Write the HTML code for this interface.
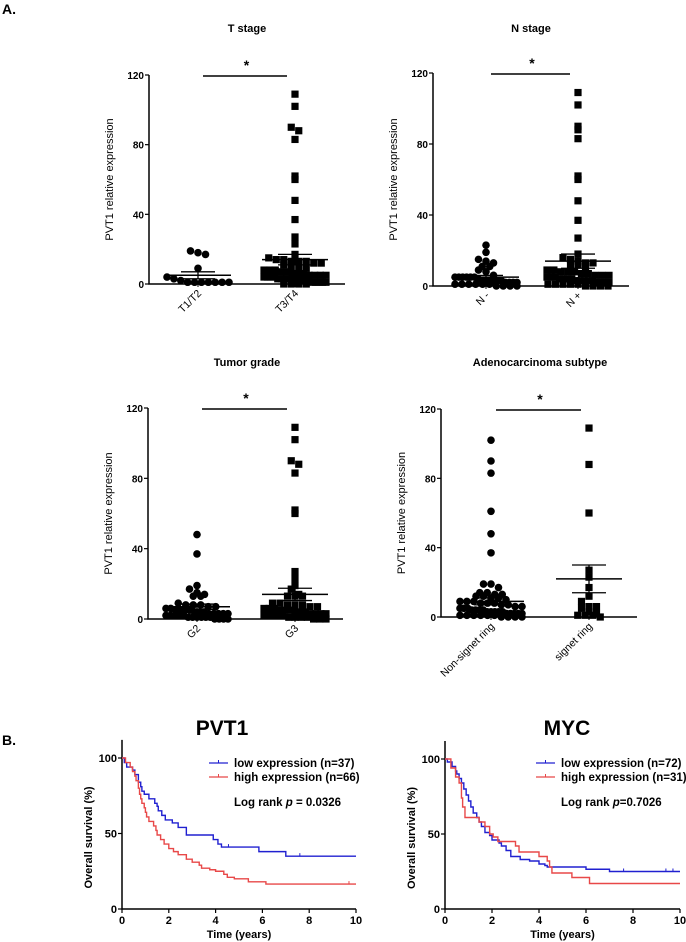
<!DOCTYPE html>
<html><head><meta charset="utf-8"><style>
html,body{margin:0;padding:0;background:#fff}
svg{display:block;font-family:"Liberation Sans",Arial,sans-serif}
</style></head><body>
<svg id="fig" width="686" height="942" viewBox="0 0 686 942" xmlns="http://www.w3.org/2000/svg">
<text x="2" y="14" font-size="14" font-weight="bold">A.</text>
<text x="2" y="745" font-size="14" font-weight="bold">B.</text>
</svg>
<script>
// ---------- Scatter data ----------
const tCats = ["T1/T2","T3/T4"];
const tLow = [19,18,17,9,4,3,2,1,1,1,1,1,1,1];
const tHigh = [109,102,90,88,83,62,60,48,37,27,23,17,15,14,14,13,13,13,12,12,11,10,9,9,8,8,8,7,7,6,6,6,5,5,5,5,4,4,4,4,3,3,3,3,3,2,2,2,2,2,1,1,1,1,1,0,0,0,0];
const tMean = [5,14]; const tSem = [2,3];
const nCats = ["N -","N +"];
const nNeg = [23,19,15,14,13,11,11,9,8,6,5,5,5,5,5,5,4,3,3,3,3,3,3,2,2,2,2,1,1,1,1,1,1,0,0,0,0];
const nPos = [109,102,90,88,83,62,60,48,37,27,18,16,15,14,13,13,12,12,11,9,9,8,8,8,7,7,6,6,6,5,5,5,4,4,4,4,3,3,3,3,3,2,2,2,2,1,1,1,1,1,0,0,0,0];
const nMean = [5,14]; const nSem = [1,4];
const gCats = ["G2","G3"];
const g2 = [48,37,19,17,15,13,13,14,9,8,8,8,7,7,6,6,5,5,5,5,4,4,4,3,3,3,3,3,2,2,2,2,2,1,1,1,1,1,1,0,0,0,0];
const g3 = [109,102,90,88,83,62,60,27,23,19,17,14,13,13,13,9,9,8,8,8,7,7,6,6,6,5,5,5,4,4,4,3,3,3,3,2,2,2,2,1,1,1,1,0,0,0];
const gMean = [7,14]; const gSem = [1.5,3.5];
const aCats = ["Non-signet ring","signet ring"];
const aNon = [102,90,83,61,48,37,19,19,17,14,14,13,13,12,12,11,11,10,9,9,9,8,8,8,7,7,6,6,5,5,5,4,4,4,4,3,3,3,3,3,2,2,2,2,2,1,1,1,1,1,1,0,0,0,0];
const aSig = [109,88,60,27,23,17,12,9,6,6,5,3,2,1,1,1,0];
const aMean = [9,22]; const aSem = [2,8];
const yTicks = [0,40,80,120];

// ---------- KM data: [time, survival%] ----------
const pvtLow = [[0,100],[0.1,97],[0.2,94],[0.45,92],[0.55,89],[0.7,84],[0.8,81],[0.85,78],[0.95,76],[1.15,73],[1.4,70],[1.5,68],[1.55,65],[1.7,62],[1.85,59],[2.15,57],[2.4,54],[2.75,49],[3.9,46],[4.1,43],[4.25,41],[5.85,38],[7.0,35]];
const pvtHigh = [[0,100],[0.15,97],[0.35,94],[0.45,91],[0.55,88],[0.6,85],[0.7,80],[0.75,76],[0.8,73],[0.85,70],[0.95,67],[1.0,64],[1.05,61],[1.15,58],[1.35,55],[1.45,52],[1.5,49],[1.65,46],[1.8,43],[2.0,40],[2.2,38],[2.4,36],[2.75,33],[3.0,31],[3.3,29],[3.4,27],[3.75,26],[4.0,25],[4.35,23],[4.5,21],[4.8,20],[5.4,18],[6.15,16.5]];
const mycLow = [[0,100],[0.1,98],[0.3,95],[0.45,92],[0.5,90],[0.6,87],[0.7,84],[0.8,80],[0.9,76],[1.0,72],[1.1,68],[1.2,64],[1.35,61],[1.45,58],[1.55,55],[1.7,51],[1.9,49],[2.0,46],[2.3,44],[2.4,42],[2.6,39],[2.8,35],[3.2,33],[3.6,32],[4.0,30],[4.25,29],[4.35,28],[6.0,26.5],[7.0,25]];
const mycHigh = [[0,100],[0.25,94],[0.45,88],[0.6,84],[0.7,74],[0.75,68],[0.85,61],[1.45,58],[1.7,55],[1.9,50],[2.05,48],[2.25,45],[3.0,42],[3.15,38],[4.0,35],[4.35,32],[4.45,28],[4.55,24],[5.4,21],[6.15,17]];
const pvtLowCens = [4.55,7.6]; const pvtHighCens = [9.7];
const mycLowCens = [7.0,7.6,9.4,9.7]; const mycHighCens = [];
const kmXTicks = [0,2,4,6,8,10]; const kmYTicks = [0,50,100];

const svg = document.getElementById('fig');
const NS = 'http://www.w3.org/2000/svg';
function mk(tag, attrs, parent){const e=document.createElementNS(NS,tag);for(const k in attrs)e.setAttribute(k,attrs[k]);(parent||svg).appendChild(e);return e;}

function scatterPanel(cfg){
  const g = mk('g',{});
  
  
  const y = v => cfg.y0 - (v/120)*(cfg.y0-cfg.y120);
  const t = mk('text',{x:cfg.titleX,y:cfg.titleY,'font-size':11,'font-weight':'bold','text-anchor':'middle'},g);
  t.textContent = cfg.title;
  
  
  const ax = mk('path',{d:`M${cfg.ax} ${cfg.y120} V${cfg.y0} H${cfg.xEnd}`,stroke:'#000','stroke-width':1.5,fill:'none'},g);
  
  
  yTicks.forEach(v=>{
    mk('line',{x1:cfg.ax-4,x2:cfg.ax,y1:y(v),y2:y(v),stroke:'#000','stroke-width':1.2},g);
    const l = mk('text',{x:cfg.ax-5,y:y(v)+4,'font-size':10,'font-weight':'bold','text-anchor':'end'},g);
    l.textContent = v;
    
    
  });
  const yt = mk('text',{transform:`translate(${cfg.ax-36},${(cfg.y0+cfg.y120)/2}) rotate(-90)`,'font-size':11,'text-anchor':'middle'},g);
  yt.textContent = 'PVT1 relative expression';
  
  
  cfg.cats.forEach((c,i)=>{
    const cx = cfg.cx[i];
    mk('line',{x1:cx,x2:cx,y1:cfg.y0,y2:cfg.y0+3,stroke:'#000','stroke-width':1},g);
    const l = mk('text',{transform:`translate(${cx+4},${cfg.y0+10}) rotate(-45)`,'font-size':10.5,'text-anchor':'end'},g);
    l.textContent = c;
    
    
    const vals = cfg.data[i];
    const bins = {};
    vals.forEach(v=>{const k=Math.round(y(v)/6.5);(bins[k]=bins[k]||[]).push(v);});
    Object.keys(bins).forEach(k=>{
      const arr = bins[k]; const n = arr.length;
      const sp = Math.min(7.5, 62/Math.max(n-1,1));
      arr.forEach((v,j)=>{
        const px = cx + (j-(n-1)/2)*sp;
        let m;
        if(cfg.circles && cfg.circles[i]){ m = mk('circle',{cx:px,cy:y(v),r:3.8,fill:'#000'},g); }
        else { m = mk('rect',{x:px-3.6,y:y(v)-3.6,width:7.2,height:7.2,fill:'#000'},g); }
        
        
      });
    });
    const mn = cfg.mean[i], se = cfg.sem[i];
    const ml = mk('line',{x1:cx-33,x2:cx+33,y1:y(mn),y2:y(mn),stroke:'#000','stroke-width':1.5},g);
    
    
    const sl = mk('path',{d:`M${cx-17} ${y(mn+se)} H${cx+17} M${cx-17} ${y(mn-se)} H${cx+17} M${cx} ${y(mn+se)} V${y(mn-se)}`,stroke:'#000','stroke-width':1.3,fill:'none'},g);
    
    
  });
  const b = mk('line',{x1:cfg.cx[0]+5,x2:cfg.cx[1]-8,y1:cfg.y120+1,y2:cfg.y120+1,stroke:'#000','stroke-width':1.5},g);
  
  
  const s = mk('text',{x:(cfg.cx[0]+cfg.cx[1])/2,y:cfg.y120-5,'font-size':14,'font-weight':'bold','text-anchor':'middle'},g);
  s.textContent = '*';
  
  
}

scatterPanel({name:'t-stage-chart',title:'T stage',titleX:247,titleY:32,ax:149,y0:284,y120:75,xEnd:345,cx:[198,295],cats:tCats,data:[tLow,tHigh],mean:tMean,sem:tSem,circles:[true,false]});
scatterPanel({name:'n-stage-chart',title:'N stage',titleX:531,titleY:32,ax:433,y0:286,y120:73,xEnd:629,cx:[486,578],cats:nCats,data:[nNeg,nPos],mean:nMean,sem:nSem,circles:[true,false]});
scatterPanel({name:'tumor-grade-chart',title:'Tumor grade',titleX:247,titleY:366,ax:148,y0:619,y120:408,xEnd:343,cx:[197,295],cats:gCats,data:[g2,g3],mean:gMean,sem:gSem,circles:[true,false]});
scatterPanel({name:'adenocarcinoma-subtype-chart',title:'Adenocarcinoma subtype',titleX:540,titleY:366,ax:441,y0:617,y120:409,xEnd:637,cx:[491,589],cats:aCats,data:[aNon,aSig],mean:aMean,sem:aSem,circles:[true,false]});

function kmPanel(cfg){
  const g = mk('g',{});
  
  
  const x = t => cfg.ax + t/10*(cfg.x10-cfg.ax);
  const y = v => cfg.y0 - v/100*(cfg.y0-cfg.y100);
  const ti = mk('text',{x:cfg.titleX,y:cfg.titleY,'font-size':21,'font-weight':'bold','text-anchor':'middle'},g);
  ti.textContent = cfg.title;
  
  
  const ax = mk('path',{d:`M${cfg.ax} ${y(112)} V${cfg.y0} H${cfg.x10}`,stroke:'#000','stroke-width':1.5,fill:'none'},g);
  
  
  kmYTicks.forEach(v=>{
    mk('line',{x1:cfg.ax-4,x2:cfg.ax,y1:y(v),y2:y(v),stroke:'#000','stroke-width':1.2},g);
    const l = mk('text',{x:cfg.ax-5,y:y(v)+4,'font-size':11,'font-weight':'bold','text-anchor':'end'},g);
    l.textContent = v;
    
    
  });
  kmXTicks.forEach(v=>{
    mk('line',{x1:x(v),x2:x(v),y1:cfg.y0,y2:cfg.y0+4,stroke:'#000','stroke-width':1.2},g);
    const l = mk('text',{x:x(v),y:cfg.y0+15,'font-size':11,'font-weight':'bold','text-anchor':'middle'},g);
    l.textContent = v;
    
    
  });
  const xt = mk('text',{x:(cfg.ax+cfg.x10)/2,y:cfg.y0+29,'font-size':11,'font-weight':'bold','text-anchor':'middle'},g);
  xt.textContent = 'Time (years)';
  
  
  const yt = mk('text',{transform:`translate(${cfg.ax-30},${(cfg.y0+cfg.y100)/2+4}) rotate(-90)`,'font-size':11,'font-weight':'bold','text-anchor':'middle'},g);
  yt.textContent = 'Overall survival (%)';
  
  
  cfg.series.forEach((s,si)=>{
    let d = `M${x(s.pts[0][0])} ${y(s.pts[0][1])}`;
    for(let k=1;k<s.pts.length;k++){ d += ` H${x(s.pts[k][0])} V${y(s.pts[k][1])}`; }
    d += ` H${x(10)}`;
    const p = mk('path',{d:d,stroke:s.color,'stroke-width':1.4,fill:'none'},g);
    
    
    s.cens.forEach(c=>{
      let val = 100; s.pts.forEach(pt=>{if(pt[0]<=c) val=pt[1];});
      const cm = mk('line',{x1:x(c),x2:x(c),y1:y(val)-3,y2:y(val),stroke:s.color,'stroke-width':1},g);
      
      
    });
    const ly = cfg.legY + si*14;
    mk('line',{x1:cfg.legX,x2:cfg.legX+19,y1:ly-4,y2:ly-4,stroke:s.color,'stroke-width':1.3},g);
    mk('line',{x1:cfg.legX+9.5,x2:cfg.legX+9.5,y1:ly-7,y2:ly-4,stroke:s.color,'stroke-width':1},g);
    const lt = mk('text',{x:cfg.legX+25,y:ly,'font-size':11.5,'font-weight':'bold'},g);
    lt.textContent = s.label;
    
    
  });
  const lr = mk('text',{x:cfg.legX+25,y:cfg.legY+39,'font-size':11.5,'font-weight':'bold'},g);
  lr.innerHTML = cfg.logrank;
  
  
}

kmPanel({name:'pvt1-survival-chart',title:'PVT1',titleX:222,titleY:735,ax:122,x10:356,y0:909,y100:758,legX:209,legY:767,
  logrank:'Log rank <tspan font-style="italic">p</tspan> = 0.0326',
  series:[{key:'low',color:'#2020d0',pts:pvtLow,cens:pvtLowCens,label:'low expression (n=37)'},{key:'high',color:'#e84848',pts:pvtHigh,cens:pvtHighCens,label:'high expression (n=66)'}]});
kmPanel({name:'myc-survival-chart',title:'MYC',titleX:567,titleY:735,ax:445,x10:680,y0:909,y100:759,legX:536,legY:767,
  logrank:'Log rank <tspan font-style="italic">p</tspan>=0.7026',
  series:[{key:'low',color:'#2020d0',pts:mycLow,cens:mycLowCens,label:'low expression (n=72)'},{key:'high',color:'#e84848',pts:mycHigh,cens:mycHighCens,label:'high expression (n=31)'}]});
</script>
</body></html>
